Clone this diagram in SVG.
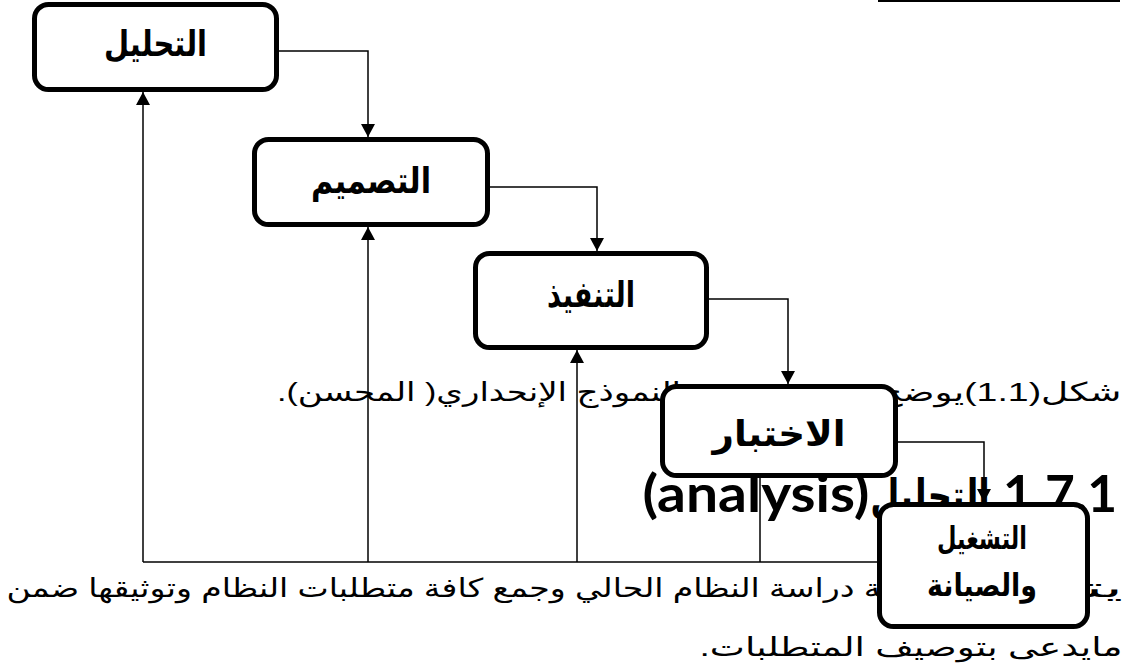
<svg xmlns="http://www.w3.org/2000/svg" width="1127" height="672" viewBox="0 0 1127 672">
  <defs>
    <marker id="arrow" markerUnits="userSpaceOnUse" markerWidth="13" markerHeight="14" viewBox="0 0 13 14" refX="13" refY="7" orient="auto">
      <path d="M0,0 L13,7 L0,14 z" fill="#000"/>
    </marker>
    <style>
      .box{fill:#fff;stroke:#000;stroke-width:5}
      .conn{fill:none;stroke:#000;stroke-width:1.5}
      .lbl{font-family:'DejaVu Sans',sans-serif;font-weight:bold;font-size:36px;fill:#000;text-anchor:middle;direction:rtl;unicode-bidi:embed}
      .lbl-sm{font-size:31px}
      .body{font-family:'Liberation Sans','DejaVu Sans',sans-serif;font-size:26px;fill:#000;text-anchor:middle;direction:rtl;unicode-bidi:embed}
      .head{font-family:Lato,'DejaVu Sans',sans-serif;font-weight:bold;font-size:52px;fill:#000;text-anchor:middle}
      .head-ar{font-family:'DejaVu Sans',sans-serif;font-size:46px;direction:rtl;unicode-bidi:embed}
    </style>
  </defs>

  <!-- rule at the top of the page -->
  <line x1="878" y1="1" x2="1120" y2="1" stroke="#000" stroke-width="2"/>

  <!-- running page text (partly covered by the boxes) -->
  <g id="page-text">
    <text class="body" x="1000" y="401" textLength="243" lengthAdjust="spacingAndGlyphs">شكل(1.1)يوضح</text>
    <text class="body" x="479" y="401" textLength="404" lengthAdjust="spacingAndGlyphs">النموذج الإنحداري( المحسن).</text>

    <text class="head" x="756" y="512" textLength="227" lengthAdjust="spacingAndGlyphs">(analysis)</text>
    <!-- Arabic word of the heading, narrowed horizontally -->
    <text class="head head-ar" transform="translate(930,512) scale(0.7,1)" x="0" y="0" textLength="171" lengthAdjust="spacingAndGlyphs">التحليل</text>
    <text class="head" x="1060" y="512" textLength="114" lengthAdjust="spacingAndGlyphs">1.7.1</text>

    <text class="body" x="1104" y="597" textLength="38" lengthAdjust="spacingAndGlyphs">يت&#x200D;</text>
    <text class="body" x="444" y="597" textLength="875" lengthAdjust="spacingAndGlyphs">&#x200D;ة دراسة النظام الحالي وجمع كافة متطلبات النظام وتوثيقها ضمن</text>
    <text class="body" x="911" y="656" textLength="423" lengthAdjust="spacingAndGlyphs">مايدعى بتوصيف المتطلبات.</text>
  </g>

  <!-- flow arrows down the cascade and feedback arrows back up -->
  <g id="connectors">
    <path class="conn" d="M279,51 H368 V137" marker-end="url(#arrow)"/>
    <path class="conn" d="M490,187 H597 V251" marker-end="url(#arrow)"/>
    <path class="conn" d="M709,299 H788 V384" marker-end="url(#arrow)"/>
    <path class="conn" d="M898,442 H984 V502" marker-end="url(#arrow)"/>
    <path class="conn" d="M878,562 H143"/>
    <path class="conn" d="M143,562 V92" marker-end="url(#arrow)"/>
    <path class="conn" d="M368,562 V227" marker-end="url(#arrow)"/>
    <path class="conn" d="M577,562 V350" marker-end="url(#arrow)"/>
    <path class="conn" d="M760,562 V478"/>
  </g>

  <g id="node-analysis">
    <rect class="box" x="34.5" y="4.5" width="242" height="85" rx="14"/>
    <text class="lbl" x="155.5" y="56" textLength="103" lengthAdjust="spacingAndGlyphs">التحليل</text>
  </g>

  <g id="node-design">
    <rect class="box" x="254.5" y="139.5" width="233" height="85" rx="14"/>
    <text class="lbl" x="371" y="193" textLength="120" lengthAdjust="spacingAndGlyphs">التصميم</text>
  </g>

  <g id="node-implementation">
    <rect class="box" x="475.5" y="253.5" width="231" height="94" rx="14"/>
    <text class="lbl" x="591" y="307" textLength="88" lengthAdjust="spacingAndGlyphs">التنفيذ</text>
  </g>

  <g id="node-testing">
    <rect class="box" x="662.5" y="386.5" width="233" height="89" rx="14"/>
    <text class="lbl" x="779" y="446" textLength="133" lengthAdjust="spacingAndGlyphs">الاختبار</text>
  </g>

  <g id="node-operation">
    <rect class="box" x="879.5" y="504.5" width="208" height="122" rx="14"/>
    <text class="lbl lbl-sm" x="982" y="549" textLength="90" lengthAdjust="spacingAndGlyphs">التشغيل</text>
    <text class="lbl lbl-sm" x="982" y="596" textLength="110" lengthAdjust="spacingAndGlyphs">والصيانة</text>
  </g>
</svg>
